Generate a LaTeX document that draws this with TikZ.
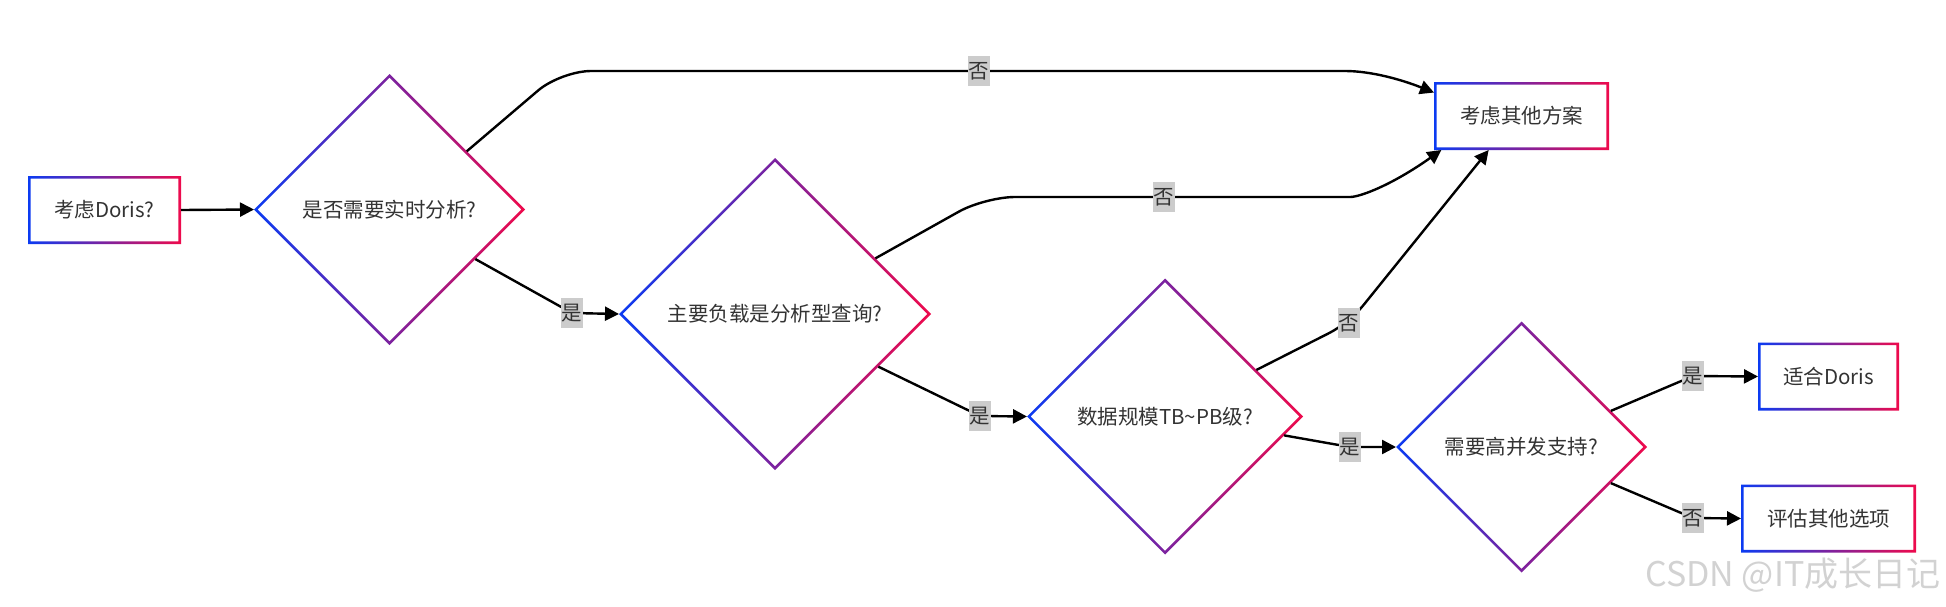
\documentclass[tikz,border=0pt]{standalone}
\usepackage{fontspec}
\newfontfamily\cjk{Noto Sans CJK SC}
\definecolor{gblue}{HTML}{0B3BF2}
\definecolor{gred}{HTML}{EE0A4C}
\definecolor{ink}{HTML}{333333}
\definecolor{tagbg}{HTML}{CCCCCC}
\definecolor{mark}{HTML}{D2D2D2}
\usetikzlibrary{calc, shapes.geometric, arrows.meta}

\begin{document}
\begin{tikzpicture}[x=1pt, y=-1pt,
  choice/.style={diamond, aspect=1, inner sep=0pt, outer sep=0pt,
                 font=\cjk\fontsize{20.5}{24}\selectfont, text=ink},
  endbox/.style={rectangle, inner sep=0pt, outer sep=0pt, minimum height=68pt,
                 font=\cjk\fontsize{20.5}{24}\selectfont, text=ink},
  flow/.style={draw=black, line width=2.4pt, rounded corners=14pt,
               -{Triangle[length=14pt, width=14pt]}},
  tag/.style={sharp corners, fill=tagbg, inner xsep=0.5pt, inner ysep=6pt,
              font=\cjk\fontsize{20.5}{24}\selectfont, text=ink},
]
\useasboundingbox (0,0) rectangle (1946,606);

% nodes
\node[endbox, minimum width=153pt] (start) at (104.5,210) {考虑Doris?};
\node[choice, minimum size=271pt] (q1) at (389.5,209.5) {是否需要实时分析?};
\node[choice, minimum size=312pt] (q2) at (775,314) {主要负载是分析型查询?};
\node[choice, minimum size=276pt] (q3) at (1165,416.5) {数据规模TB\textasciitilde PB级?};
\node[choice, minimum size=251pt] (q4) at (1521.5,447) {需要高并发支持?};
\node[endbox, minimum width=175pt] (other) at (1521.5,116) {考虑其他方案};
\node[endbox, minimum width=141pt] (fit) at (1828.5,376.5) {适合Doris};
\node[endbox, minimum width=175pt] (eval) at (1828.5,518.5) {评估其他选项};

% gradient borders
\foreach \n in {start,other,fit,eval}
  \shade[left color=gblue, right color=gred, even odd rule]
    (\n.south west) rectangle (\n.north east)
    ($(\n.south west)+(2.6pt,2.6pt)$) rectangle ($(\n.north east)-(2.6pt,2.6pt)$);
\foreach \n in {q1,q2,q3,q4}
  \shade[left color=gblue, right color=gred, even odd rule]
    (\n.west) -- (\n.north) -- (\n.east) -- (\n.south) -- cycle
    ($(\n.west)+(3.7pt,0)$) -- ($(\n.north)-(0,3.7pt)$)
    -- ($(\n.east)-(3.7pt,0)$) -- ($(\n.south)+(0,3.7pt)$) -- cycle;

% connectors
\draw[flow] (start.east) -- (q1.west);
\draw[flow, rounded corners=30pt] (q1.37) -- (561,71) -- (1315,71)
  .. controls (1370,71) and (1400,79) .. (other.165);
\node[tag] (no1) at (979,71) {否};
\draw[flow] (q1.-30) -- (572,313) node[tag] (yes1) {是} -- (q2.west);
\draw[flow, rounded corners=30pt] (q2.29) -- (985,197) -- (1320,197)
  .. controls (1360,197) and (1392,185) .. (other.203);
\node[tag] (no2) at (1164,197) {否};
\draw[flow] (q2.-27) -- (980,416) node[tag] (yes2) {是} -- (q3.west);
\draw[flow, rounded corners=22pt] (q3.27) -- (1349,323) node[tag] (no3) {否} -- (other.226);
\draw[flow] (q3.-9) -- (1350,447) node[tag] (yes3) {是} -- (q4.west);
\draw[flow] (q4.22) -- (1693,376) node[tag] (yes4) {是} -- (fit.west);
\draw[flow] (q4.-22) -- (1693,518) node[tag] (no4) {否} -- (eval.west);

\node[text=mark, font=\cjk\fontsize{34}{38}\selectfont, anchor=east] (wm) at (1944,575)
  {CSDN @IT成长日记};
\end{tikzpicture}
\end{document}
